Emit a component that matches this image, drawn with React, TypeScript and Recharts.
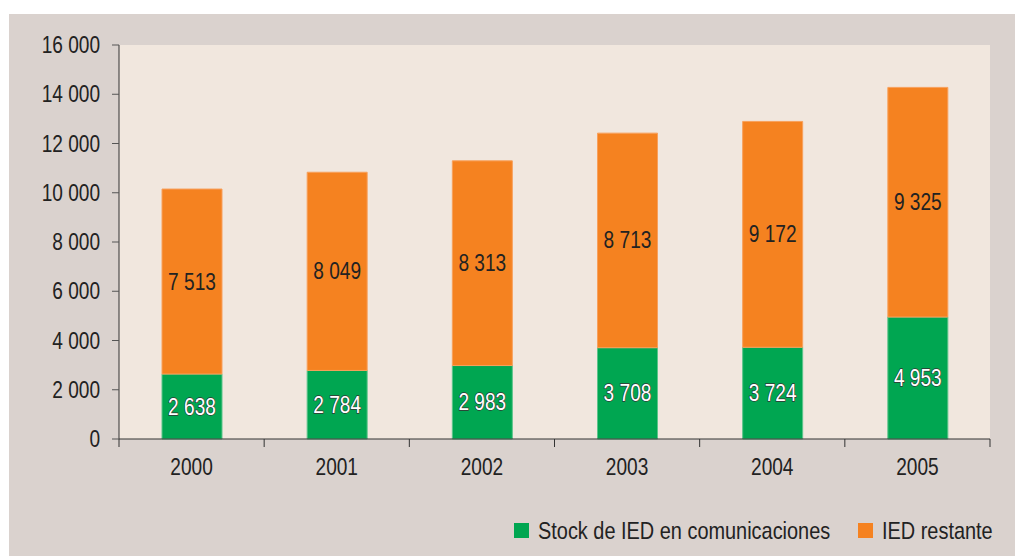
import React from "react"
import {
  BarChart,
  Bar,
  XAxis,
  YAxis,
  CartesianGrid,
  LabelList,
  Legend,
} from "recharts"

const years = ["2000", "2001", "2002", "2003", "2004", "2005"]
const stockComunicaciones = [2638, 2784, 2983, 3708, 3724, 4953]
const iedRestante = [7513, 8049, 8313, 8713, 9172, 9325]
const yTicks = [0, 2000, 4000, 6000, 8000, 10000, 12000, 14000, 16000]
const seriesNames = ["Stock de IED en comunicaciones", "IED restante"]

const data = years.map((year, i) => ({
  year,
  stock: stockComunicaciones[i],
  resto: iedRestante[i],
}))

const GREEN = "#00A651"
const ORANGE = "#F58220"
const FONT = "'Liberation Sans', Arial, sans-serif"
const SX = 0.83 // no narrow face installed, squeeze the regular one

const CHART_W = 1006
const CHART_H = 542
const MARGIN = { top: 31, right: 25, left: 0, bottom: 0 }
const Y_W = 110
const BAND = (CHART_W - MARGIN.left - MARGIN.right - Y_W) / years.length

const fmt = (v: number) => String(v).replace(/\B(?=(\d{3})+(?!\d))/g, " ")

function NarrowText({ x, y, anchor = "middle", size = 23, children, ...rest }: any) {
  return (
    <text
      transform={`translate(${x},${y}) scale(${SX},1)`}
      textAnchor={anchor}
      fontSize={size}
      fontFamily={FONT}
      dy="0.35em"
      {...rest}
    >
      {children}
    </text>
  )
}

function XTick({ x, y, payload, index }: any) {
  const last = index === years.length - 1
  return (
    <g>
      <line x1={x - BAND / 2} x2={x - BAND / 2} y1={y} y2={y + 8} stroke="#333" />
      {last && <line x1={x + BAND / 2} x2={x + BAND / 2} y1={y} y2={y + 8} stroke="#333" />}
      <NarrowText x={x} y={y + 28} fill="#222">
        {payload.value}
      </NarrowText>
    </g>
  )
}

function YTick({ x, y, payload }: any) {
  return (
    <NarrowText x={x} y={y} anchor="end" fill="#222">
      {fmt(payload.value)}
    </NarrowText>
  )
}

const greenLabel = ({ x, y, width, height, value }: any) => (
  <NarrowText
    x={x + width / 2}
    y={y + height / 2}
    fill="#fff"
    stroke="#333"
    strokeWidth={1.3}
    paintOrder="stroke"
  >
    {fmt(value)}
  </NarrowText>
)

const orangeLabel = ({ x, y, width, height, value }: any) => (
  <NarrowText x={x + width / 2} y={y + height / 2} fill="#222">
    {fmt(value)}
  </NarrowText>
)

function LegendContent() {
  return (
    <svg width={480} height={26}>
      <rect x={0} y={5} width={15} height={15} fill={GREEN} />
      <NarrowText x={24} y={13} anchor="start" size={24} fill="#222">
        {seriesNames[0]}
      </NarrowText>
      <rect x={344} y={5} width={15} height={15} fill={ORANGE} />
      <NarrowText x={368} y={13} anchor="start" size={24} fill="#222">
        {seriesNames[1]}
      </NarrowText>
    </svg>
  )
}

export default function App() {
  return (
    <div style={{ position: "absolute", left: 0, top: 0, width: 1015, height: 556, background: "#fff" }}>
      <div style={{ position: "absolute", left: 9, top: 14, width: CHART_W, height: CHART_H, background: "#DAD2CE" }}>
        <BarChart width={CHART_W} height={CHART_H} data={data} margin={MARGIN} barSize={60}>
          <CartesianGrid horizontal={false} vertical={false} fill="#F1E7DE" stroke="none" />
          <XAxis
            dataKey="year"
            height={CHART_H - 425 - MARGIN.bottom}
            axisLine={{ stroke: "#333" }}
            tickLine={false}
            tickSize={0}
            tickMargin={0}
            tick={<XTick />}
            interval={0}
          />
          <YAxis
            width={Y_W}
            domain={[0, 16000]}
            ticks={yTicks}
            interval={0}
            axisLine={{ stroke: "#333" }}
            tickLine={{ stroke: "#555" }}
            tickSize={7}
            tickMargin={12}
            tick={<YTick />}
          />
          <Legend
            layout="horizontal"
            verticalAlign="middle"
            content={<LegendContent />}
            wrapperStyle={{ top: 504, left: 505, width: 480, height: 26 }}
          />
          <Bar dataKey="stock" stackId="a" fill={GREEN} stroke="#5CC48A" strokeWidth={1} isAnimationActive={false}>
            <LabelList dataKey="stock" content={greenLabel} />
          </Bar>
          <Bar dataKey="resto" stackId="a" fill={ORANGE} stroke="#F8A05C" strokeWidth={1} isAnimationActive={false}>
            <LabelList dataKey="resto" content={orangeLabel} />
          </Bar>
        </BarChart>
      </div>
    </div>
  )
}
